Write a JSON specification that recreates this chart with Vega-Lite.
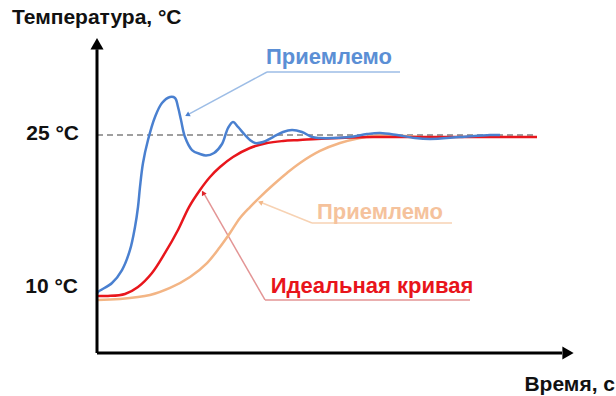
{
  "$schema": "https://vega.github.io/schema/vega-lite/v6.json",
  "width": 616,
  "height": 396,
  "padding": 0,
  "autosize": {"type": "fit", "contains": "padding"},
  "background": "white",
  "config": {"view": {"stroke": null}},
  "resolve": {"scale": {"color": "independent"}},
  "datasets": {
    "curves": [
      {"series": "orange", "t": 0, "T": 9.63}, {"series": "orange", "t": 2.3, "T": 9.72}, {"series": "orange", "t": 5.3, "T": 10.09}, {"series": "orange", "t": 7.3, "T": 10.75}, {"series": "orange", "t": 9.3, "T": 11.77}, {"series": "orange", "t": 11.0, "T": 13.07}, {"series": "orange", "t": 12.3, "T": 14.57}, {"series": "orange", "t": 13.3, "T": 15.87}, {"series": "orange", "t": 14.3, "T": 17.27}, {"series": "orange", "t": 15.3, "T": 18.29}, {"series": "orange", "t": 16.3, "T": 19.22}, {"series": "orange", "t": 17.6, "T": 20.34}, {"series": "orange", "t": 19.0, "T": 21.46}, {"series": "orange", "t": 20.3, "T": 22.39}, {"series": "orange", "t": 22.3, "T": 23.51}, {"series": "orange", "t": 24.3, "T": 24.25}, {"series": "orange", "t": 26.3, "T": 24.72}, {"series": "orange", "t": 28.3, "T": 25.0}, {"series": "orange", "t": 30.8, "T": 24.91}, {"series": "orange", "t": 33.3, "T": 24.72},
      {"series": "red", "t": 0, "T": 10.0}, {"series": "red", "t": 1.1, "T": 10.0}, {"series": "red", "t": 2.8, "T": 10.19}, {"series": "red", "t": 4.1, "T": 10.84}, {"series": "red", "t": 5.5, "T": 12.14}, {"series": "red", "t": 6.8, "T": 14.01}, {"series": "red", "t": 8.1, "T": 16.15}, {"series": "red", "t": 9.2, "T": 18.29}, {"series": "red", "t": 10.3, "T": 19.88}, {"series": "red", "t": 11.3, "T": 21.09}, {"series": "red", "t": 12.3, "T": 22.02}, {"series": "red", "t": 13.6, "T": 22.95}, {"series": "red", "t": 15.3, "T": 23.79}, {"series": "red", "t": 17.0, "T": 24.25}, {"series": "red", "t": 18.6, "T": 24.44}, {"series": "red", "t": 20.3, "T": 24.53}, {"series": "red", "t": 22.0, "T": 24.63}, {"series": "red", "t": 24.3, "T": 24.72}, {"series": "red", "t": 27.6, "T": 24.81}, {"series": "red", "t": 35.0, "T": 24.81}, {"series": "red", "t": 44.0, "T": 24.81},
      {"series": "blue", "t": 0, "T": 10.19}, {"series": "blue", "t": 0.1, "T": 10.37}, {"series": "blue", "t": 1.5, "T": 11.21}, {"series": "blue", "t": 2.5, "T": 12.42}, {"series": "blue", "t": 3.3, "T": 14.29}, {"series": "blue", "t": 3.8, "T": 16.43}, {"series": "blue", "t": 4.1, "T": 18.29}, {"series": "blue", "t": 4.3, "T": 20.16}, {"series": "blue", "t": 4.6, "T": 22.39}, {"series": "blue", "t": 5.1, "T": 24.53}, {"series": "blue", "t": 5.8, "T": 26.68}, {"series": "blue", "t": 6.5, "T": 27.98}, {"series": "blue", "t": 7.3, "T": 28.54}, {"series": "blue", "t": 7.8, "T": 28.45}, {"series": "blue", "t": 8.1, "T": 27.61}, {"series": "blue", "t": 8.4, "T": 26.40}, {"series": "blue", "t": 8.8, "T": 24.81}, {"series": "blue", "t": 9.5, "T": 23.60}, {"series": "blue", "t": 10.3, "T": 23.23}, {"series": "blue", "t": 10.9, "T": 23.09}, {"series": "blue", "t": 11.7, "T": 23.32}, {"series": "blue", "t": 12.5, "T": 24.16}, {"series": "blue", "t": 13.1, "T": 25.65}, {"series": "blue", "t": 13.6, "T": 26.21}, {"series": "blue", "t": 14.1, "T": 25.75}, {"series": "blue", "t": 14.8, "T": 25.0}, {"series": "blue", "t": 15.3, "T": 24.53}, {"series": "blue", "t": 15.8, "T": 24.25}, {"series": "blue", "t": 16.6, "T": 24.35}, {"series": "blue", "t": 17.6, "T": 24.81}, {"series": "blue", "t": 18.6, "T": 25.28}, {"series": "blue", "t": 19.5, "T": 25.47}, {"series": "blue", "t": 20.5, "T": 25.28}, {"series": "blue", "t": 21.5, "T": 24.81}, {"series": "blue", "t": 22.3, "T": 24.72}, {"series": "blue", "t": 23.6, "T": 24.72}, {"series": "blue", "t": 25.3, "T": 24.81}, {"series": "blue", "t": 27.0, "T": 25.09}, {"series": "blue", "t": 28.3, "T": 25.19}, {"series": "blue", "t": 30.0, "T": 25.0}, {"series": "blue", "t": 31.8, "T": 24.72}, {"series": "blue", "t": 33.3, "T": 24.63}, {"series": "blue", "t": 36.3, "T": 24.81}, {"series": "blue", "t": 39.3, "T": 25.0}, {"series": "blue", "t": 40.3, "T": 25.0}
    ],
    "segs": [
      {"kind": "blue", "t": 9.0, "T": 26.86, "t2": 17.0, "T2": 30.87},
      {"kind": "blue", "t": 17.0, "T": 30.87, "t2": 30.3, "T2": 30.87},
      {"kind": "orange", "t": 16.3, "T": 18.76, "t2": 21.5, "T2": 16.80},
      {"kind": "orange", "t": 21.5, "T": 16.80, "t2": 35.5, "T2": 16.80},
      {"kind": "red", "t": 10.6, "T": 19.69, "t2": 16.8, "T2": 9.63},
      {"kind": "red", "t": 16.8, "T": 9.63, "t2": 37.3, "T2": 9.63}
    ],
    "heads": [
      {"kind": "blue", "t": 9.1, "T": 26.9, "angle": 242},
      {"kind": "orange", "t": 16.4, "T": 18.7, "angle": 291},
      {"kind": "red", "t": 10.65, "T": 19.55, "angle": 330}
    ],
    "labels": [
      {"kind": "blue", "t": 23.2, "T": 32.27, "text": "Приемлемо"},
      {"kind": "orange", "t": 28.3, "T": 17.83, "text": "Приемлемо"},
      {"kind": "red", "t": 27.5, "T": 10.93, "text": "Идеальная кривая"}
    ],
    "leftlabels": [
      {"t": -8.5, "T": 35.9, "text": "Температура, °C"}
    ],
    "rightlabels": [
      {"t": -1.8, "T": 25.09, "text": "25 °C"},
      {"t": -1.9, "T": 10.84, "text": "10 °C"},
      {"t": 51.8, "T": 1.71, "text": "Время, с"}
    ]
  },
  "layer": [
    {
      "data": {"values": [{"t": 0, "t2": 44.0, "T": 25}]},
      "mark": {"type": "rule", "color": "#808080", "strokeWidth": 1.5, "strokeDash": [6, 4]},
      "encoding": {
        "x": {"field": "t", "type": "quantitative", "scale": {"domain": [-9.7, 51.9], "nice": false, "zero": false}, "axis": null},
        "x2": {"field": "t2"},
        "y": {"field": "T", "type": "quantitative", "scale": {"domain": [0.683, 37.578], "nice": false, "zero": false}, "axis": null}
      }
    },
    {
      "data": {"name": "segs"},
      "mark": {"type": "rule", "strokeWidth": 1.5},
      "encoding": {
        "x": {"field": "t", "type": "quantitative"},
        "y": {"field": "T", "type": "quantitative"},
        "x2": {"field": "t2"},
        "y2": {"field": "T2"},
        "color": {"field": "kind", "type": "nominal", "scale": {"domain": ["blue", "orange", "red"], "range": ["#9dbde6", "#f7d2b3", "#e39595"]}, "legend": null}
      }
    },
    {
      "data": {"name": "heads"},
      "mark": {"type": "point", "shape": "triangle", "filled": true, "size": 30, "opacity": 1},
      "encoding": {
        "x": {"field": "t", "type": "quantitative"},
        "y": {"field": "T", "type": "quantitative"},
        "angle": {"field": "angle", "type": "quantitative", "scale": null},
        "color": {"field": "kind", "type": "nominal", "scale": {"domain": ["blue", "orange", "red"], "range": ["#4a80d0", "#f3b888", "#e0242a"]}, "legend": null}
      }
    },
    {
      "data": {"name": "curves"},
      "transform": [{"filter": "datum.series === 'orange'"}],
      "mark": {"type": "line", "color": "#f3b585", "strokeWidth": 2.5, "interpolate": "catmull-rom"},
      "encoding": {
        "x": {"field": "t", "type": "quantitative"},
        "y": {"field": "T", "type": "quantitative"}
      }
    },
    {
      "data": {"name": "curves"},
      "transform": [{"filter": "datum.series === 'red'"}],
      "mark": {"type": "line", "color": "#e8161c", "strokeWidth": 2.5, "interpolate": "catmull-rom"},
      "encoding": {
        "x": {"field": "t", "type": "quantitative"},
        "y": {"field": "T", "type": "quantitative"}
      }
    },
    {
      "data": {"name": "curves"},
      "transform": [{"filter": "datum.series === 'blue'"}],
      "mark": {"type": "line", "color": "#4a80d0", "strokeWidth": 2.5, "interpolate": "catmull-rom"},
      "encoding": {
        "x": {"field": "t", "type": "quantitative"},
        "y": {"field": "T", "type": "quantitative"}
      }
    },
    {
      "data": {"values": [
        {"t": 0, "T": 4.69, "t2": 0, "T2": 33.0},
        {"t": 0, "T": 4.69, "t2": 46.5, "T2": 4.69}
      ]},
      "mark": {"type": "rule", "color": "black", "strokeWidth": 3},
      "encoding": {
        "x": {"field": "t", "type": "quantitative"},
        "y": {"field": "T", "type": "quantitative"},
        "x2": {"field": "t2"},
        "y2": {"field": "T2"}
      }
    },
    {
      "data": {"values": [
        {"t": 0, "T": 33.5, "shape": "triangle-up"},
        {"t": 47.1, "T": 4.69, "shape": "triangle-right"}
      ]},
      "mark": {"type": "point", "filled": true, "color": "black", "size": 170, "opacity": 1},
      "encoding": {
        "x": {"field": "t", "type": "quantitative"},
        "y": {"field": "T", "type": "quantitative"},
        "shape": {"field": "shape", "type": "nominal", "scale": null}
      }
    },
    {
      "data": {"name": "labels"},
      "mark": {"type": "text", "font": "Liberation Sans", "fontWeight": "bold", "fontSize": 22, "align": "center", "baseline": "middle"},
      "encoding": {
        "x": {"field": "t", "type": "quantitative"},
        "y": {"field": "T", "type": "quantitative"},
        "text": {"field": "text"},
        "color": {"field": "kind", "type": "nominal", "scale": {"domain": ["blue", "orange", "red"], "range": ["#5b8fd5", "#f5c29c", "#e8141b"]}, "legend": null}
      }
    },
    {
      "data": {"name": "leftlabels"},
      "mark": {"type": "text", "font": "Liberation Sans", "fontWeight": "bold", "fontSize": 21, "baseline": "middle", "align": "left", "color": "#111111"},
      "encoding": {
        "x": {"field": "t", "type": "quantitative"},
        "y": {"field": "T", "type": "quantitative"},
        "text": {"field": "text"}
      }
    },
    {
      "data": {"name": "rightlabels"},
      "mark": {"type": "text", "font": "Liberation Sans", "fontWeight": "bold", "fontSize": 21, "baseline": "middle", "align": "right", "color": "#111111"},
      "encoding": {
        "x": {"field": "t", "type": "quantitative"},
        "y": {"field": "T", "type": "quantitative"},
        "text": {"field": "text"}
      }
    }
  ]
}
